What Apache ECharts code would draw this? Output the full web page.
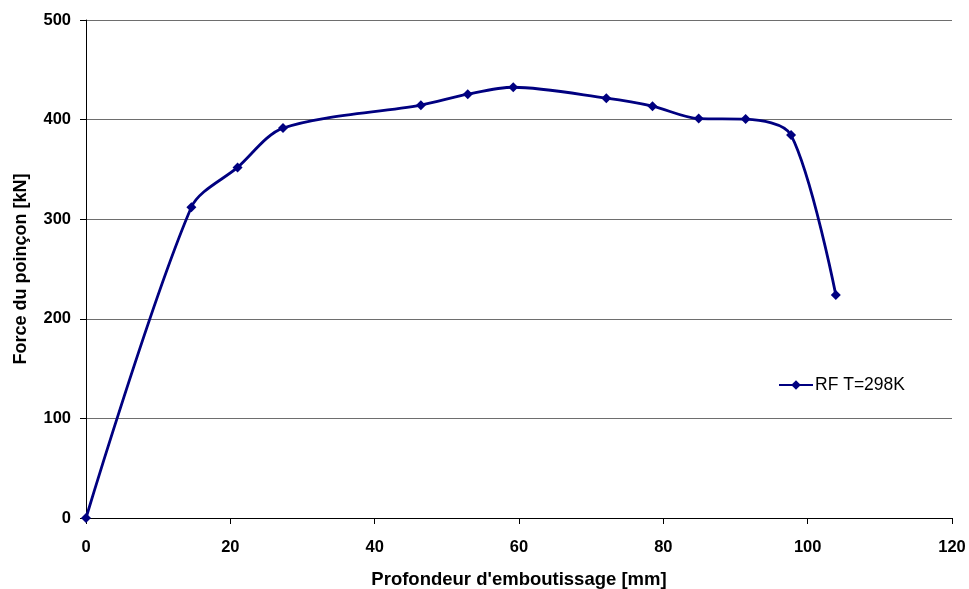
<!DOCTYPE html>
<html><head><meta charset="utf-8">
<script src="https://cdn.jsdelivr.net/npm/echarts@6/dist/echarts.min.js"></script>
<style>html,body{margin:0;padding:0;background:#fff}#c{width:969px;height:589px}</style>
</head><body><div id="c"></div>
<script>
const depth = [0, 14.6, 21.0, 27.3, 46.4, 52.9, 59.2, 72.1, 78.5, 84.9, 91.4, 97.7, 103.9];
const force = [0, 312, 352, 391.5, 414.5, 425.5, 432.5, 421.5, 413.5, 401, 400.5, 384.5, 224];
const seriesName = 'RF T=298K';
const xTitle = "Profondeur d'emboutissage [mm]";
const yTitle = 'Force du poinçon [kN]';

const chart = echarts.init(document.getElementById('c'));
const font = 'Arial, "Liberation Sans", sans-serif';
chart.setOption({
  animation: false,
  backgroundColor: '#fff',
  grid: {left: 86, right: 17, top: 20, bottom: 71, outerBoundsMode: 'none', containLabel: false},
  legend: {
    left: 773, top: 371, orient: 'vertical',
    itemWidth: 34, itemHeight: 12, itemGap: 4,
    textStyle: {fontFamily: font, fontSize: 17.5, color: '#000', padding: [0, 0, 0, -3]},
    data: [seriesName]
  },
  xAxis: {
    type: 'value', min: 0, max: 120, interval: 20,
    name: xTitle, nameLocation: 'middle', nameGap: 52,
    nameTextStyle: {fontFamily: font, fontSize: 18.5, fontWeight: 'bold', color: '#000'},
    axisLine: {show: true, onZero: false, lineStyle: {color: '#000', width: 1}},
    axisTick: {show: true, length: 6, lineStyle: {color: '#000'}},
    axisLabel: {fontFamily: font, fontSize: 16.5, fontWeight: 'bold', color: '#000', margin: 21},
    splitLine: {show: false}
  },
  yAxis: {
    type: 'value', min: 0, max: 500, interval: 100,
    name: yTitle, nameLocation: 'middle', nameGap: 56, nameRotate: 90,
    nameTextStyle: {fontFamily: font, fontSize: 18, fontWeight: 'bold', color: '#000'},
    axisLine: {show: true, lineStyle: {color: '#000', width: 1}},
    axisTick: {show: true, length: 6, lineStyle: {color: '#000'}},
    axisLabel: {fontFamily: font, fontSize: 16.5, fontWeight: 'bold', color: '#000', margin: 15},
    splitLine: {show: true, lineStyle: {color: '#6e6e6e', width: 1}}
  },
  series: [{
    name: seriesName, type: 'line',
    data: depth.map((d, i) => [d, force[i]]),
    smooth: 0.3,
    symbol: 'diamond', symbolSize: 10,
    lineStyle: {color: '#000080', width: 2.8},
    itemStyle: {color: '#000080'}
  }]
});
</script></body></html>
